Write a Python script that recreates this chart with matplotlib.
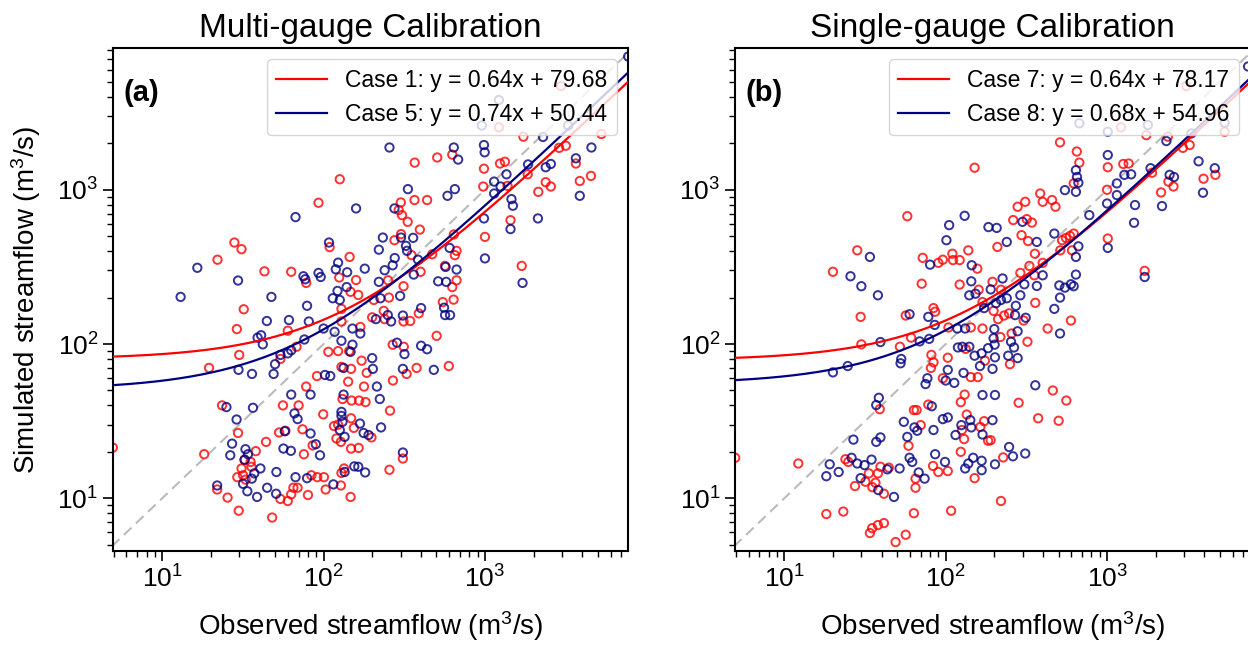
import numpy as np
import matplotlib
matplotlib.use('Agg')
import matplotlib.pyplot as plt

plt.rcParams['font.family'] = ['Liberation Sans', 'DejaVu Sans']
plt.rcParams['mathtext.fontset'] = 'custom'
plt.rcParams['mathtext.rm'] = 'Liberation Sans'
plt.rcParams['mathtext.it'] = 'Liberation Sans:italic'

# (a) Multi-gauge calibration: (observed, simulated) pairs in m3/s
case1 = [
    (126, 1170), (93, 824), (28, 455), (31, 412), (22, 352), (43, 296), (63, 294), (109, 425),
    (145, 367), (125, 270), (159, 260), (78, 249), (147, 218), (164, 208),
    (2960, 4710), (1220, 2540), (1730, 2210), (5270, 2300), (3170, 1930), (2880, 1870), (367, 1500),
    (506, 1620), (627, 1690), (986, 1370), (1240, 1480), (1330, 1520), (3660, 1480), (4540, 1230),
    (3870, 1140), (1840, 1260), (2380, 1120), (2560, 1050), (2140, 970), (976, 1050), (1380, 1060),
    (366, 858), (438, 858), (301, 828), (292, 739), (306, 685), (332, 620), (395, 552), (1440, 635),
    (1000, 495), (275, 471), (302, 516), (641, 513), (351, 377), (471, 382), (667, 402), (651, 377),
    (1690, 321), (565, 321), (627, 234), (667, 259), (313, 237), (251, 259), (399, 294),
    (32, 168), (29, 125), (60, 122), (30, 85), (19.5, 70), (68, 96), (54, 80), (129, 140), (129, 169),
    (169, 129), (107, 89), (123, 90), (144, 90), (172, 78), (129, 71), (148, 69), (185, 65), (91, 62),
    (142, 57), (78, 53), (178, 53), (131, 44), (149, 43), (166, 43), (182, 42), (23.5, 40), (56, 40),
    (70, 40), (99.5, 35), (148, 33), (4.94, 21.3), (29.5, 26.5), (53, 26.7), (58, 27.4), (74, 28),
    (116, 29.4), (123, 30), (120, 24.4), (128, 23.2), (154, 28.6), (148, 21), (165, 21.2), (44, 23.2),
    (38, 20.2), (85.5, 22), (75.5, 19.3), (18.2, 19.3), (32.4, 17.7), (35.3, 17.2), (31, 15.6),
    (35.7, 16), (31.7, 14.1), (29.2, 13.7), (32.9, 13.2), (84, 14.1), (91.4, 13.7), (100.5, 13.7),
    (129, 14.6), (134, 15.6), (128, 12.1), (65, 11.7), (69, 11.7), (63, 10.6), (54, 9.9), (60, 9.6),
    (80, 10.5), (103, 11.4), (147, 10.2), (21.9, 11.4), (25.4, 10.1), (29.8, 8.3), (48, 7.5),
    (205, 193), (254, 200), (548, 187), (639, 194), (236, 164), (200, 149), (239, 145), (313, 140),
    (344, 141), (389, 158), (502, 113), (268, 99), (314, 96), (377, 70), (327, 64), (597, 72),
    (269, 58), (258, 37), (198, 24.8), (310, 18.1), (256, 15.3),
]
case5 = [
    (159, 757), (67, 665), (108, 455), (16.5, 312), (29.5, 258), (75, 275), (77, 263), (93, 289),
    (96, 272), (123, 337), (119, 305), (140, 292), (180, 308), (122, 221), (139, 234), (13, 202),
    (47.5, 202),
    (256, 1880), (641, 1880), (682, 1570), (986, 1950), (996, 1750), (1220, 3820), (955, 2610),
    (2290, 2200), (3280, 2610), (4570, 1880), (3660, 1600), (2560, 1470), (2380, 1400), (1850, 1460),
    (1360, 1260), (1140, 1130), (1250, 1050), (1140, 946), (1460, 870), (1490, 788), (3870, 914),
    (2130, 652), (1440, 556), (986, 652), (333, 1010), (651, 1010), (586, 914), (275, 757), (233, 490),
    (302, 490), (359, 488), (220, 409), (324, 433), (329, 402), (604, 420), (276, 361), (385, 352),
    (268, 324), (239, 301), (1000, 359), (570, 316), (667, 304), (362, 282), (513, 255), (575, 253),
    (220, 253), (1710, 249), (7720, 7310),
    (79, 177), (114, 198), (126, 193), (44.5, 141), (61, 143), (81, 140), (100, 126), (151, 126),
    (169, 117), (117, 120), (41, 114), (39, 110), (42, 99.5), (76, 107), (129, 105), (151, 99),
    (147, 89), (63, 91), (60, 87), (54, 85), (50, 74), (49, 64), (36, 64), (29.7, 68), (102, 63),
    (110, 62), (133, 70), (63, 47), (83, 47), (133, 47), (25, 39), (36.5, 38.6), (28.9, 32.4),
    (66, 35.5), (69, 32.6), (129, 36.3), (129, 34.2), (131, 31.3), (168, 30.5), (126, 27.7), (135, 25),
    (177, 26.5), (190, 25.7), (57.5, 27.2), (83, 26.3), (89.5, 22.4), (95, 19), (56.4, 21),
    (62.7, 20.3), (27.1, 22.6), (26.4, 19), (32.8, 20.8), (34, 19.3), (32.4, 17.8), (40.6, 15.6),
    (37.2, 14.5), (51, 14.8), (67, 13.7), (79, 13.5), (115, 12.3), (135, 14.8), (155, 16.1), (164, 16),
    (181, 14.7), (31.7, 12.4), (33.7, 11.1), (35.9, 13.4), (44.7, 11.7), (38.7, 10.2), (50.8, 10.7),
    (21.9, 12.1),
    (298, 205), (225, 198), (402, 171), (558, 172), (566, 154), (608, 154), (250, 154), (211, 145),
    (262, 140), (310, 153), (285, 102), (317, 86), (402, 97.5), (438, 92.5), (200, 81), (202, 69),
    (310, 69), (482, 68), (214, 53), (223, 44), (227, 28.8), (310, 19.8),
]

# (b) Single-gauge calibration
case7 = [
    (151, 1390), (57.8, 674), (28.3, 405), (20, 294), (72, 362), (90, 336), (96, 352), (110, 385),
    (111, 350), (122, 350), (138, 405), (157, 308), (71, 246), (122, 243), (160, 225),
    (3100, 4710), (1220, 2540), (1750, 2260), (2380, 2210), (2950, 1870), (3250, 1950), (5350, 2380),
    (511, 2030), (649, 1770), (673, 1500), (621, 1100), (1010, 1400), (1260, 1470), (1360, 1480),
    (1000, 1000), (1900, 1290), (2400, 1130), (2580, 1050), (2160, 961), (3960, 1180), (4690, 1250),
    (385, 946), (311, 836), (279, 776), (399, 836), (456, 858), (479, 776), (262, 636), (318, 645),
    (342, 613), (295, 508), (324, 465), (209, 426), (357, 385), (399, 336), (526, 471), (556, 487),
    (589, 502), (621, 520), (513, 405), (606, 405), (1010, 483), (1710, 298), (290, 289), (330, 321),
    (195, 253), (220, 225), (354, 279),
    (29.7, 150), (30, 99.5), (56.5, 153), (84, 171), (86, 162), (61, 110), (52, 96), (104, 128),
    (143, 128), (169, 126), (133, 93), (81.5, 85), (103, 81.5), (84, 76), (81, 70), (96, 60), (143, 61),
    (158, 61), (175, 78), (131, 47), (124, 42), (78, 40.5), (63.5, 37.3), (66, 37.3), (39, 37.8),
    (70, 29.8), (135, 34.9), (173, 31.6), (164, 29), (126, 27.7), (130, 24.2), (183, 23.6), (58.8, 21.9),
    (124, 20), (4.96, 18.3), (12.2, 16.8), (23.9, 17.9), (24.9, 17.2), (39.4, 16), (44.4, 15.8),
    (33.4, 14.5), (38, 14.5), (31.8, 12.8), (36.7, 12.6), (27.4, 12), (35.1, 11.8), (41.4, 10.7),
    (65, 13.4), (65, 11.7), (83.5, 16.2), (90, 14.8), (103, 15), (151, 13.5), (18.2, 7.9), (23.2, 8.2),
    (63.5, 8), (108, 8.3), (41.4, 6.9), (38, 6.7), (35, 6.4), (33.9, 5.95), (56.5, 5.8), (48.9, 5.2),
    (169, 187),
    (359, 185), (198, 164), (211, 145), (230, 153), (247, 158), (304, 142), (597, 142), (428, 126),
    (218, 111), (256, 117), (321, 103.5), (250, 74), (461, 50), (559, 43), (283, 41.6), (374, 33),
    (501, 31.8), (190, 23.8), (227, 18.4), (220, 9.6),
]
case8 = [
    (131, 678), (105, 590), (184, 573), (101, 471), (33.9, 367), (80, 327), (25.7, 275), (30, 237),
    (145, 324), (144, 255), (190, 226), (38, 207), (140, 207), (153, 212),
    (7480, 6300), (673, 2700), (1010, 2380), (1790, 2630), (2330, 2070), (3330, 2320), (5350, 2720),
    (1010, 1680), (3690, 1530), (4650, 1380), (641, 1340), (651, 1210), (664, 1110), (641, 970),
    (548, 995), (1150, 1100), (1280, 1250), (1410, 1260), (1860, 1380), (2440, 1250), (2600, 1210),
    (3930, 957), (1150, 924), (1490, 796), (2190, 784), (1470, 611), (1000, 815), (776, 685),
    (207, 566), (299, 620), (239, 459), (367, 459), (471, 520), (664, 430), (641, 367), (1010, 420),
    (1710, 272), (641, 282), (399, 279), (307, 244), (367, 238), (225, 266), (506, 240), (548, 232),
    (597, 244), (621, 237), (290, 207),
    (59.7, 156), (78, 150), (85.5, 133), (173, 171), (39.4, 103), (69, 104), (79, 108), (118, 126),
    (132, 126), (119, 95), (127, 96), (140, 96), (151, 84), (167, 87), (183, 94), (163, 72), (53, 80),
    (52.5, 75), (20, 65.5), (24.7, 72), (103, 68), (77, 60), (75, 55), (100, 58), (113, 56), (129, 65),
    (169, 46.7), (38.5, 44.8), (37.1, 40.2), (82, 39.5), (96, 32.6), (103, 33.4), (55, 31.3), (64, 28.8),
    (66.6, 27.4), (84, 27.7), (115, 25.7), (125, 29.8), (142, 32.1), (144, 28.8), (169, 25.9),
    (57.8, 25), (26.8, 24), (37.1, 23.2), (39.4, 24.8), (86, 19.3), (99, 17.2), (26.1, 18.3),
    (28.3, 16.8), (31.4, 16.4), (34.7, 17.8), (19.1, 16.6), (21.7, 14.8), (18.2, 13.9), (29.7, 13.5),
    (43.5, 15.4), (51.8, 15.6), (59.7, 18.3), (62, 17.2), (68, 14.7), (74, 13.4), (38.2, 11.3),
    (47.8, 10.2), (132, 15.6), (138, 16.8), (148, 18.3), (167, 17.5), (167, 15.2),
    (511, 200), (239, 198), (220, 193), (205, 184), (471, 169), (272, 177), (269, 154), (313, 148),
    (200, 125), (279, 121), (511, 117), (198, 109), (201, 99), (254, 103.5), (265, 95), (244, 84),
    (279, 81), (202, 82), (195, 69), (359, 54), (202, 46.7), (195, 32.1), (247, 21.5), (261, 18.7),
    (311, 19.5), (202, 16.6),
]

# linear fits shown in the legends
fits = {
    'Case 1': (0.64, 79.68), 'Case 5': (0.74, 50.44),
    'Case 7': (0.64, 78.17), 'Case 8': (0.68, 54.96),
}

panels = [
    ('Multi-gauge Calibration', '(a)', [('Case 1', case1), ('Case 5', case5)]),
    ('Single-gauge Calibration', '(b)', [('Case 7', case7), ('Case 8', case8)]),
]
colors = ['red', 'navy']
xlims = (4.95, 7700)
ylims = (4.55, 8300)

fig = plt.figure(figsize=(12.48, 6.49), dpi=100)
axes = [fig.add_axes([0.0905, 0.151, 0.4127, 0.775]),
        fig.add_axes([0.589, 0.151, 0.4127, 0.775])]

for ax, (title, tag, cases) in zip(axes, panels):
    ax.set_xscale('log')
    ax.set_yscale('log')
    ax.plot([1, 1e4], [1, 1e4], ls='--', c='#bbbbbb', lw=1.5, dashes=(5, 3), zorder=1)
    for (name, pts), col in zip(cases, colors):
        obs = np.array([p[0] for p in pts])
        sim = np.array([p[1] for p in pts])
        ax.scatter(obs, sim, s=36, facecolors='none', edgecolors=col, linewidths=1.4,
                   alpha=0.8, zorder=2)
    for (name, pts), col in zip(cases, colors):
        a, b = fits[name]
        xx = np.logspace(np.log10(xlims[0]), np.log10(xlims[1]), 300)
        ax.plot(xx, a * xx + b, c=col, lw=1.6, zorder=3,
                label=f'{name}: y = {a:.2f}x + {b:.2f}')
    ax.set_xlim(xlims)
    ax.set_ylim(ylims)
    ax.set_title(title, fontsize=24, pad=8)
    ax.set_xlabel('Observed streamflow (m$^3$/s)', fontsize=20, labelpad=12)
    ax.text(0.02, 0.91, tag, transform=ax.transAxes, fontsize=21, fontweight='bold', va='center')
    ax.legend(loc='upper right', fontsize=16.5, handlelength=2.2)
    ax.tick_params(axis='both', which='major', labelsize=19, length=7, width=1.2)
    ax.tick_params(axis='both', which='minor', length=4, width=1)
    for sp in ax.spines.values():
        sp.set_linewidth(1.5)

axes[0].set_ylabel('Simulated streamflow (m$^3$/s)', fontsize=20, labelpad=10)

fig.savefig('out.png', dpi=100)
